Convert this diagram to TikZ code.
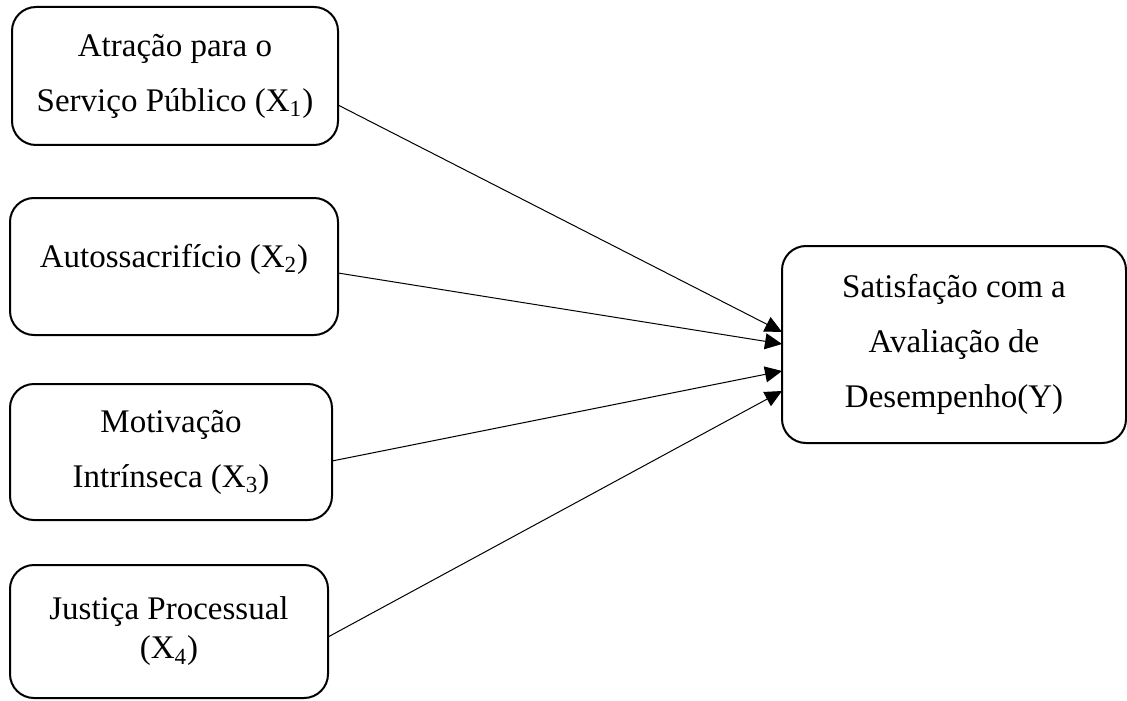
\documentclass[tikz,border=0pt]{standalone}
\usepackage{fontspec}
\setmainfont{Liberation Serif}
\usetikzlibrary{arrows.meta}
\begin{document}
\begin{tikzpicture}[x=0.5pt,y=-0.5pt,
  box/.style={draw, line width=1pt, rounded corners=12pt, align=center,
    inner sep=0pt, outer sep=0pt, font=\fontsize{16.5}{27.5}\selectfont},
  tightbox/.style={box, font=\fontsize{16.5}{19.5}\selectfont},
  conn/.style={-{Triangle[length=8.5pt,width=8pt]}, line width=0.5pt}]
\useasboundingbox (0,0) rectangle (1127,700);
\node[box, minimum width=163pt, minimum height=69pt] (b1) at (175,76)
  {Atração para o\\Serviço Público (X\textsubscript{1})};
\node[box, minimum width=164pt, minimum height=68.5pt] (b2) at (174,266.5)
  {\raisebox{3.5pt}[\height][\depth]{Autossacrifício (X\textsubscript{2})}};
\node[box, minimum width=161pt, minimum height=68pt] (b3) at (171,452)
  {Motivação\\Intrínseca (X\textsubscript{3})};
\node[tightbox, minimum width=159pt, minimum height=66.5pt] (b4) at (169,631.5)
  {Justiça Processual\\(X\textsubscript{4})};
\node[box, minimum width=172pt, minimum height=98.5pt] (y) at (954,344.5)
  {Satisfação com a\\Avaliação de\\Desempenho(Y)};
\draw[conn] ([yshift=-14.5pt]b1.east) -- ([yshift=6.25pt]y.west);
\draw[conn] ([yshift=-3.25pt]b2.east) -- ([yshift=0.25pt]y.west);
\draw[conn] ([yshift=-4.5pt]b3.east) -- ([yshift=-13.25pt]y.west);
\draw[conn] ([yshift=-2.75pt]b4.east) -- ([yshift=-23.25pt]y.west);
\end{tikzpicture}
\end{document}
